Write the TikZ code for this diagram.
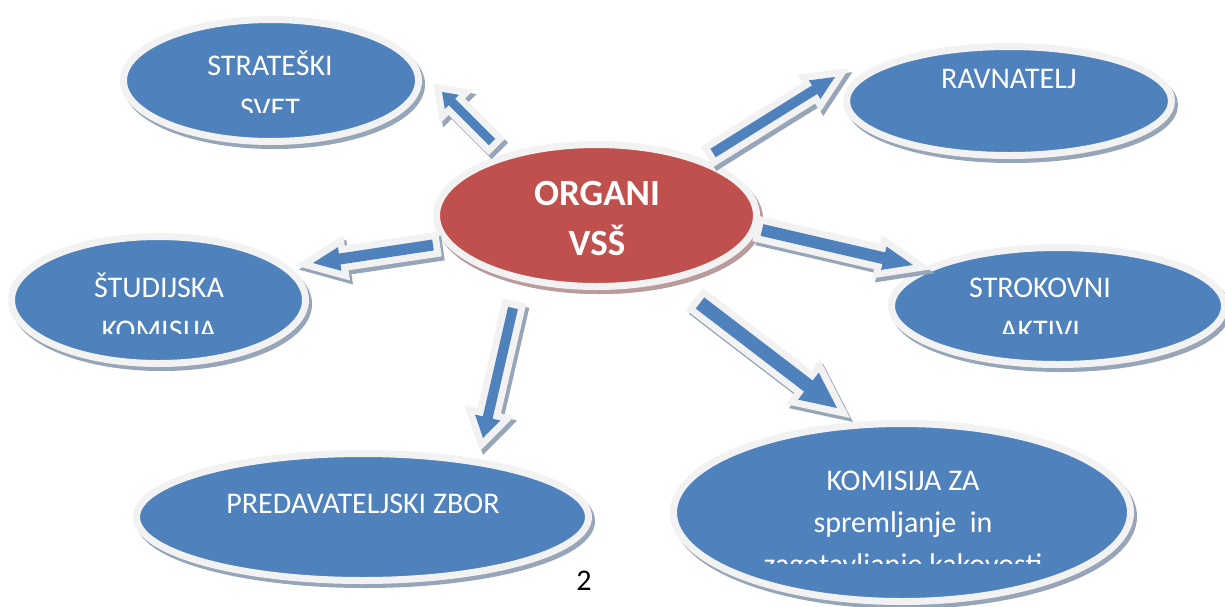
\documentclass[tikz,border=0pt]{standalone}
\usepackage{fontspec}
\setmainfont{Carlito}
\usetikzlibrary{shapes.geometric,calc}
\definecolor{ablue}{HTML}{4F81BD}
\definecolor{ared}{HTML}{C0504D}
\definecolor{bord}{HTML}{F2F2F2}
\definecolor{shblue}{HTML}{96A5B8}
\definecolor{shred}{HTML}{BA9A9B}
\newcommand\arrpoly[6]{\path[#1] ($(#2)!#4!90:(#3)$) -- ($($(#3)!#6!(#2)$)!#4!90:(#3)$) -- ($($(#3)!#6!(#2)$)!#5!90:(#3)$) -- (#3) -- ($($(#3)!#6!(#2)$)!#5!-90:(#3)$) -- ($($(#3)!#6!(#2)$)!#4!-90:(#3)$) -- ($(#2)!#4!-90:(#3)$) -- cycle;}
\newcommand\blockarr[5]{%
  \arrpoly{arrsh}{#1}{#2}{#3}{#4}{#5}%
  \arrpoly{arrbd}{#1}{#2}{#3}{#4}{#5}%
  \arrpoly{arrfill}{#1}{#2}{#3}{#4}{#5}}
\begin{document}
\begin{tikzpicture}[x=1pt,y=-1pt,
  ell/.style={ellipse, draw=bord, line width=7pt, fill=ablue, inner sep=0pt,
    preaction={draw=shblue, fill=shblue, line width=7pt, transform canvas={xshift=3pt,yshift=-4pt}}},
  redell/.style={ell, fill=ared,
    preaction={draw=shred, fill=shred, line width=7pt, transform canvas={xshift=3pt,yshift=-4pt}}},
  txt/.style={text=white, font=\fontsize{30}{36}\selectfont, inner sep=0pt, anchor=base},
  btxt/.style={text=white, font=\fontsize{37}{44}\selectfont\bfseries, inner sep=0pt, anchor=base},
  arrsh/.style={fill=shblue, draw=shblue, line width=14pt, line join=miter, transform canvas={xshift=3pt,yshift=-4pt}},
  arrbd/.style={fill=bord, draw=bord, line width=14pt, line join=miter},
  arrfill/.style={fill=ablue}]
\useasboundingbox[fill=white] (0,0) rectangle (1225,606);

% ellipses
\node[ell, minimum width=295pt, minimum height=122pt] (sv) at (271,80.5) {};
\node[ell, minimum width=325pt, minimum height=109pt] (rv) at (1009,101) {};
\node[redell, minimum width=320pt, minimum height=142pt] (org) at (596.5,215.5) {};
\node[ell, minimum width=294pt, minimum height=127pt] (sk) at (158.5,300) {};
\node[ell, minimum width=333pt, minimum height=117pt] (sa) at (1058,306) {};
\node[ell, minimum width=452pt, minimum height=127pt] (pz) at (362.5,517) {};
\node[ell, minimum width=457pt, minimum height=178pt] (kz) at (902,512.5) {};

% texts
\node[txt] (svt) at (270,75) {STRATEŠKI};
\begin{scope}
  \clip (0,0) rectangle (1225,112);
  \node[txt] (svt2) at (270,118) {SVET};
\end{scope}
\node[txt] (rvt) at (1009,88) {RAVNATELJ};
\node[btxt] (orgt) at (597,205) {ORGANI};
\node[btxt] (orgt2) at (597,255) {VSŠ};
\node[txt] (skt) at (159,297) {ŠTUDIJSKA};
\begin{scope}
  \clip (0,0) rectangle (1225,333);
  \node[txt] (skt2) at (159,340) {KOMISIJA};
  \node[txt] (sat2) at (1040,340) {AKTIVI};
\end{scope}
\node[txt] (sat) at (1040,297) {STROKOVNI};
\node[txt] (pzt) at (363,513) {PREDAVATELJSKI ZBOR};
\node[txt] (kzt) at (903,490) {KOMISIJA ZA};
\node[txt] (kzt2) at (903,532) {spremljanje\ \ in};
\begin{scope}
  \clip (0,0) rectangle (1225,563);
  \node[txt] (kzt3) at (903,574) {zagotavljanje kakovosti};
\end{scope}
\node[txt, text=black] (pg) at (584,590) {2};

% arrows
\coordinate (a1s) at (492,142); \coordinate (a1e) at (442,92);
\coordinate (a2s) at (433,245); \coordinate (a2e) at (313,263);
\coordinate (a3s) at (513,308); \coordinate (a3e) at (483,438);
\coordinate (a4s) at (713,153); \coordinate (a4e) at (835,77);
\coordinate (a5s) at (762,230); \coordinate (a5e) at (913,265);
\coordinate (a6s) at (700,303); \coordinate (a6e) at (837,408);
\blockarr{a1s}{a1e}{4.5pt}{10pt}{14pt}
\blockarr{a2s}{a2e}{5.5pt}{12pt}{27pt}
\blockarr{a3s}{a3e}{5pt}{13pt}{21pt}
\blockarr{a4s}{a4e}{5pt}{11pt}{24pt}
\blockarr{a5s}{a5e}{6pt}{12pt}{30pt}
\blockarr{a6s}{a6e}{7pt}{17pt}{36pt}
\end{tikzpicture}
\end{document}
